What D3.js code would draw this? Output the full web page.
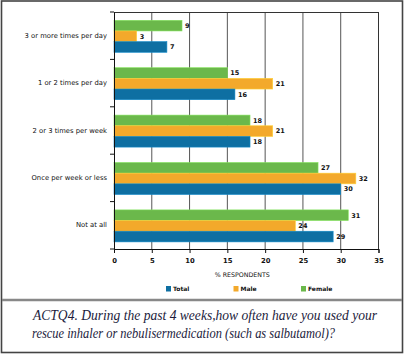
<!DOCTYPE html>
<html><head><meta charset="utf-8">
<script src="https://cdn.jsdelivr.net/npm/d3@7"></script>
<style>body{margin:0;background:#fff}svg{display:block}</style>
</head><body>
<script>
const categories = ["3 or more times per day","1 or 2 times per day","2 or 3 times per week","Once per week or less","Not at all"];
const seriesNames = ["Female","Male","Total"];
const female = [9,15,18,27,31];
const male = [3,21,21,32,24];
const total = [7,16,18,30,29];
const xTicks = [0,5,10,15,20,25,30,35];
const legendNames = ["Total","Male","Female"];
const colors = {Total:"#0e6fa2", Male:"#f3a92b", Female:"#6bb84b"};
const captionLines = ["ACTQ4. During the past 4 weeks,how often have you used your","rescue inhaler or nebulisermedication (such as salbutamol)?"];

const values = {Female: female, Male: male, Total: total};
const W = 405, H = 357;
const svg = d3.select("body").append("svg").attr("width", W).attr("height", H);

// outer frame
svg.append("rect").attr("x",1.5).attr("y",1).attr("width",401).attr("height",351.5)
  .attr("fill","#fff").attr("stroke","#444").attr("stroke-width",1.6);

const pL = 114, pR = 378.5, pT = 12, pB = 249;
const x = d3.scaleLinear().domain([0,35]).range([pL,pR]);
const y = d3.scaleBand().domain(categories).range([pT,pB]);
const bw = y.bandwidth();
const yi = d3.scaleBand().domain(seriesNames).range([bw*0.175, bw*0.85]);

// grid
svg.append("g").selectAll("line").data(xTicks.filter(d=>d>0)).join("line")
  .attr("x1",d=>x(d)).attr("x2",d=>x(d)).attr("y1",pT).attr("y2",pB)
  .attr("stroke",d=>d===35?"#333":"#555").attr("stroke-width",1);
svg.append("line").attr("x1",pL).attr("x2",pR).attr("y1",pT+0.5).attr("y2",pT+0.5)
  .attr("stroke","#333").attr("stroke-width",1);

// bars
const g = svg.append("g");
categories.forEach((c,i)=>{
  seriesNames.forEach(s=>{
    const v = values[s][i];
    const y0 = y(c)+yi(s);
    g.append("rect").attr("x",x(0)).attr("y",y0).attr("width",x(v)-x(0)).attr("height",yi.bandwidth())
      .attr("fill",colors[s]).attr("stroke",d3.color(colors[s]).brighter(0.6)).attr("stroke-width",0.6);
    g.append("text").attr("x",x(v)+3).attr("y",y0+yi.bandwidth()/2).attr("dy","0.35em")
      .attr("font-family","DejaVu Sans").attr("font-size",6.5).attr("font-weight","bold")
      .attr("fill","#111").text(v);
  });
});

// y axis
const yAxis = d3.axisLeft(y).tickSize(0).tickPadding(7);
const ya = svg.append("g").attr("transform",`translate(${pL},0)`).call(yAxis);
ya.select(".domain").attr("stroke","#111");
ya.selectAll("text").attr("font-family","DejaVu Sans").attr("font-size",6.8).attr("fill","#111");
// category separator ticks
svg.append("g").selectAll("line").data(d3.range(categories.length+1)).join("line")
  .attr("x1",pL-4).attr("x2",pL).attr("y1",i=>pT+i*bw).attr("y2",i=>pT+i*bw)
  .attr("stroke","#111");

// x axis
const xAxis = d3.axisBottom(x).tickValues(xTicks).tickSize(4).tickPadding(5).tickFormat(d3.format("d"));
const xa = svg.append("g").attr("transform",`translate(0,${pB})`).call(xAxis);
xa.select(".domain").attr("stroke","#111");
xa.selectAll("line").attr("stroke","#111");
xa.selectAll("text").attr("font-family","DejaVu Sans").attr("font-size",6.8).attr("font-weight","bold").attr("fill","#111");

svg.append("text").attr("x",(pL+pR)/2-4).attr("y",277).attr("text-anchor","middle")
  .attr("font-family","DejaVu Sans").attr("font-size",6.3).attr("fill","#111").text("% RESPONDENTS");

// legend
const lx = d3.scalePoint().domain(legendNames).range([166,301]);
const lg = svg.append("g").selectAll("g").data(legendNames).join("g")
  .attr("transform",d=>`translate(${lx(d)},286)`);
lg.append("rect").attr("width",5).attr("height",5.5).attr("fill",d=>colors[d]);
lg.append("text").attr("x",7).attr("y",3).attr("dy","0.35em")
  .attr("font-family","DejaVu Sans").attr("font-size",6).attr("font-weight","bold").attr("fill","#111").text(d=>d);

// separator
svg.append("line").attr("x1",2).attr("x2",402).attr("y1",300).attr("y2",300)
  .attr("stroke","#888").attr("stroke-width",2.4);

// caption
const capLen = [344, 303];
svg.append("g").selectAll("text").data(captionLines).join("text")
  .attr("x",(d,i)=>i===0?33:32).attr("y",(d,i)=>320+i*18)
  .attr("textLength",(d,i)=>capLen[i]).attr("lengthAdjust","spacingAndGlyphs")
  .attr("font-family","Liberation Serif").attr("font-style","italic").attr("font-size",13.8)
  .attr("fill","#1c1c3c").text(d=>d);
</script>
</body></html>
